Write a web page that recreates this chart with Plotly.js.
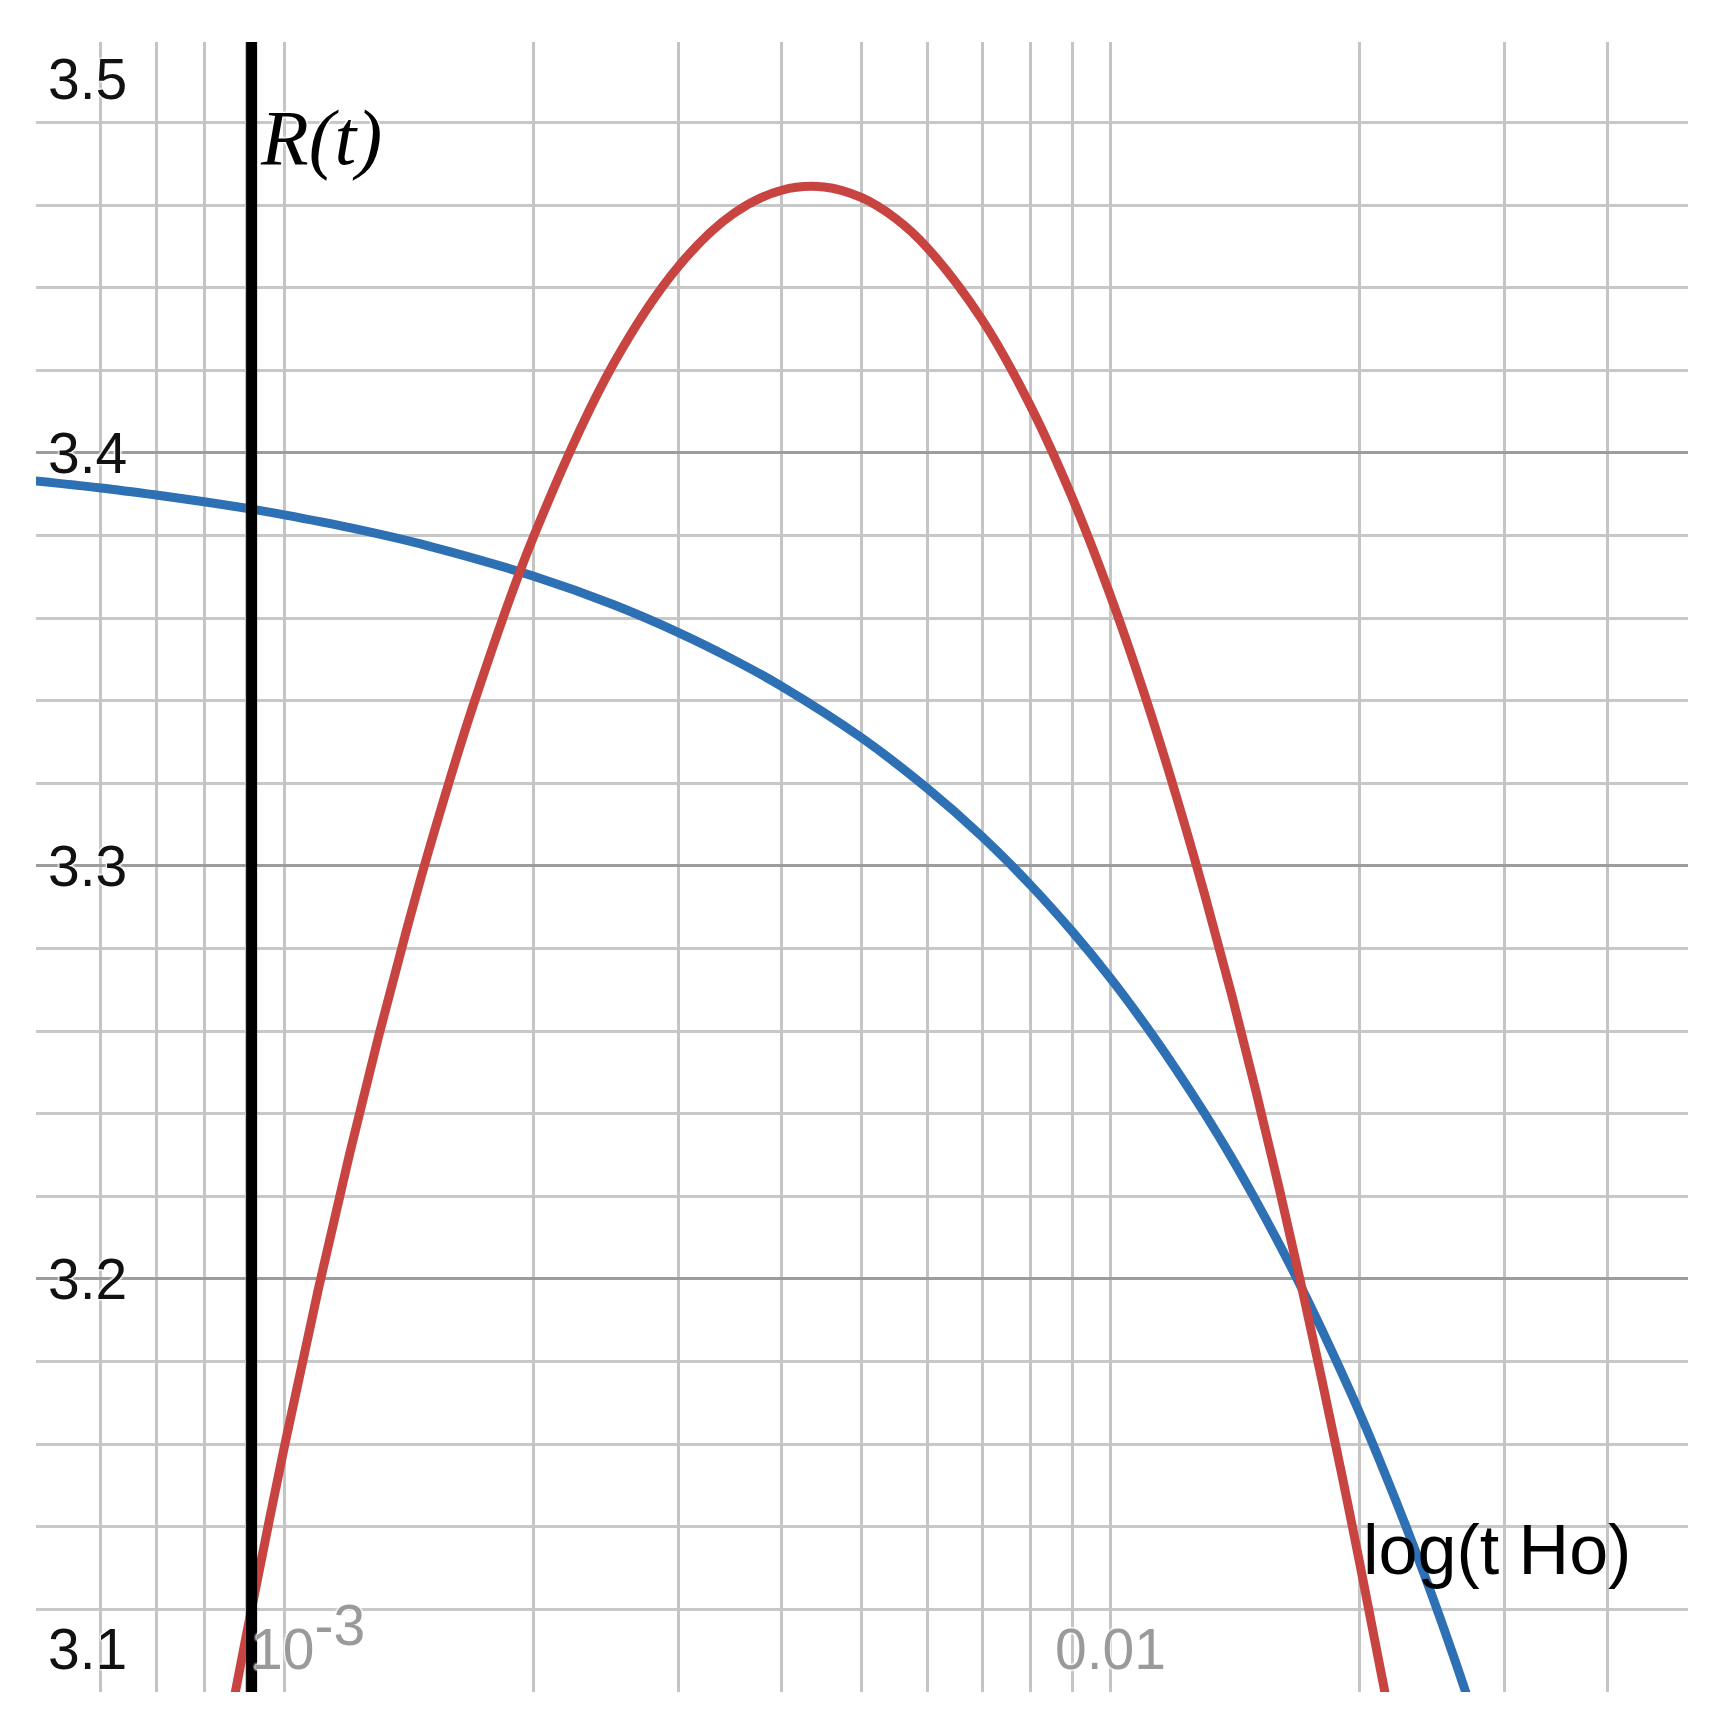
<!DOCTYPE html>
<html>
<head>
<meta charset="utf-8">
<script src="https://cdn.plot.ly/plotly-3.0.1.min.js"></script>
<style>
  html, body { margin: 0; padding: 0; background: #fff; }
  #chart { width: 1719px; height: 1725px; }
</style>
</head>
<body>
<div id="chart"></div>
<script>
// ---- data (x = t·Ho on a log axis, y = R(t)) ----
const redX = [0.00087, 0.0009, 0.001, 0.0011, 0.0012, 0.0013, 0.0014, 0.0015, 0.0017, 0.002,
              0.0025, 0.003, 0.0035, 0.004, 0.0045, 0.005, 0.0055, 0.006, 0.007, 0.008,
              0.009, 0.01, 0.011, 0.012, 0.013, 0.014, 0.015, 0.016, 0.017, 0.018,
              0.019, 0.02, 0.0215];
const redY = [3.0987, 3.1139, 3.1593, 3.1977, 3.2304, 3.2586, 3.2831, 3.3046, 3.3400, 3.3794,
              3.4214, 3.4452, 3.4580, 3.4636, 3.4644, 3.4618, 3.4567, 3.4497, 3.4321, 3.4114,
              3.3889, 3.3654, 3.3414, 3.3172, 3.2931, 3.2692, 3.2454, 3.2220, 3.1989, 3.1761,
              3.1538, 3.1318, 3.0996];

const blueX = [0.0005, 0.0006, 0.0007, 0.0008, 0.0009, 0.001, 0.0012, 0.0015, 0.002, 0.0025,
               0.003, 0.0035, 0.004, 0.005, 0.006, 0.007, 0.008, 0.009, 0.01, 0.011,
               0.012, 0.013, 0.014, 0.015, 0.016, 0.017, 0.018, 0.02, 0.022, 0.024,
               0.026, 0.027];
const blueY = [3.3932, 3.3915, 3.3898, 3.3882, 3.3866, 3.3850, 3.3819, 3.3774, 3.3702, 3.3633,
               3.3565, 3.3499, 3.3435, 3.3310, 3.3188, 3.3070, 3.2954, 3.2840, 3.2728, 3.2617,
               3.2508, 3.2401, 3.2295, 3.2189, 3.2085, 3.1982, 3.1879, 3.1678, 3.1478, 3.1282,
               3.1088, 3.0991];

const vLineX = [0.000913, 0.000913];
const vLineY = [3.1, 3.5];

const xGridVals = [0.0006, 0.0007, 0.0008, 0.0009, 0.001, 0.002, 0.003, 0.004, 0.005, 0.006, 0.007, 0.008, 0.009,
                   0.01, 0.02, 0.03, 0.04, 0.05];
const xTickVals = [0.001, 0.01];
const xTickText = ['10<sup><span style="font-size:57px">-3</span></sup>', '0.01'];
const yTickVals = [3.1, 3.2, 3.3, 3.4, 3.5];
const yTickText = ['3.1', '3.2', '3.3', '3.4', '3.5'];
const yLabel = 'R(t)';
const xLabel = 'log(t Ho)';

// ---- styling / layout ----
const sans = 'Liberation Sans, Arial, sans-serif';
const halo = '0 0 3px #fff, 0 0 3px #fff, 0 0 3px #fff, 0 0 3px #fff';
const yRange = [3.1, 3.4995];

const traces = [
  { x: blueX, y: blueY, type: 'scatter', mode: 'lines',
    line: { color: '#2d70b3', width: 9, shape: 'spline', smoothing: 1 }, hoverinfo: 'skip' },
  { x: redX, y: redY, type: 'scatter', mode: 'lines',
    line: { color: '#c74440', width: 9, shape: 'spline', smoothing: 1 }, hoverinfo: 'skip' },
  { x: vLineX, y: vLineY, type: 'scatter', mode: 'lines',
    line: { color: '#000000', width: 11 }, hoverinfo: 'skip' }
];

const yMin = Math.min(...yTickVals), yMax = Math.max(...yTickVals);
const annotations = [];

yTickVals.forEach((v, i) => {
  let anchor = 'middle', shift = 0;
  if (v === yMax) { anchor = 'top'; shift = -3; }
  if (v === yMin) { anchor = 'bottom'; shift = 9; }
  const yp = Math.max(0, Math.min(1, (v - yRange[0]) / (yRange[1] - yRange[0])));
  annotations.push({
    xref: 'paper', x: 0, xanchor: 'left', xshift: 10,
    yref: 'paper', y: yp, yanchor: anchor, yshift: shift,
    text: yTickText[i], showarrow: false,
    font: { family: sans, size: 57, color: '#111111', shadow: halo }
  });
});

xTickVals.forEach((v, i) => {
  annotations.push({
    xref: 'x', x: Math.log10(v), xanchor: 'center', xshift: i === 0 ? 24 : 0,
    yref: 'paper', y: 0, yanchor: 'bottom', yshift: 9,
    text: xTickText[i], showarrow: false,
    font: { family: sans, size: 57, color: '#9a9a9a', shadow: halo }
  });
});

annotations.push({
  xref: 'x', x: Math.log10(vLineX[0]), xanchor: 'left', xshift: 6,
  yref: 'paper', y: 1, yanchor: 'top', yshift: -50,
  text: yLabel, showarrow: false,
  font: { family: 'Liberation Serif, Times New Roman, serif', size: 78, color: '#000000', style: 'italic', shadow: halo }
});

annotations.push({
  xref: 'paper', x: 1, xanchor: 'right', xshift: -55,
  yref: 'paper', y: 0, yanchor: 'bottom', yshift: 101,
  text: xLabel, showarrow: false,
  font: { family: sans, size: 70, color: '#000000' }
});

const layout = {
  width: 1719, height: 1725,
  margin: { l: 36, r: 31, t: 42, b: 33, pad: 0 },
  paper_bgcolor: '#ffffff', plot_bgcolor: '#ffffff',
  showlegend: false,
  xaxis: {
    type: 'log', range: [-3.3005, Math.log10(0.05)],
    tickmode: 'array', tickvals: xGridVals, showticklabels: false, ticks: '',
    showgrid: true, gridcolor: '#c4c4c4', gridwidth: 3,
    zeroline: false, showline: false, fixedrange: true
  },
  yaxis: {
    range: yRange,
    tickmode: 'linear', tick0: 3.1, dtick: 0.1, showticklabels: false, ticks: '',
    showgrid: true, gridcolor: '#9c9c9c', gridwidth: 3,
    minor: { tickmode: 'linear', tick0: 3.1, dtick: 0.02, showgrid: true, gridcolor: '#c8c8c8', gridwidth: 3, ticks: '' },
    zeroline: false, showline: false, fixedrange: true
  },
  annotations: annotations
};

Plotly.newPlot('chart', traces, layout, { displayModeBar: false, staticPlot: true });
</script>
</body>
</html>
